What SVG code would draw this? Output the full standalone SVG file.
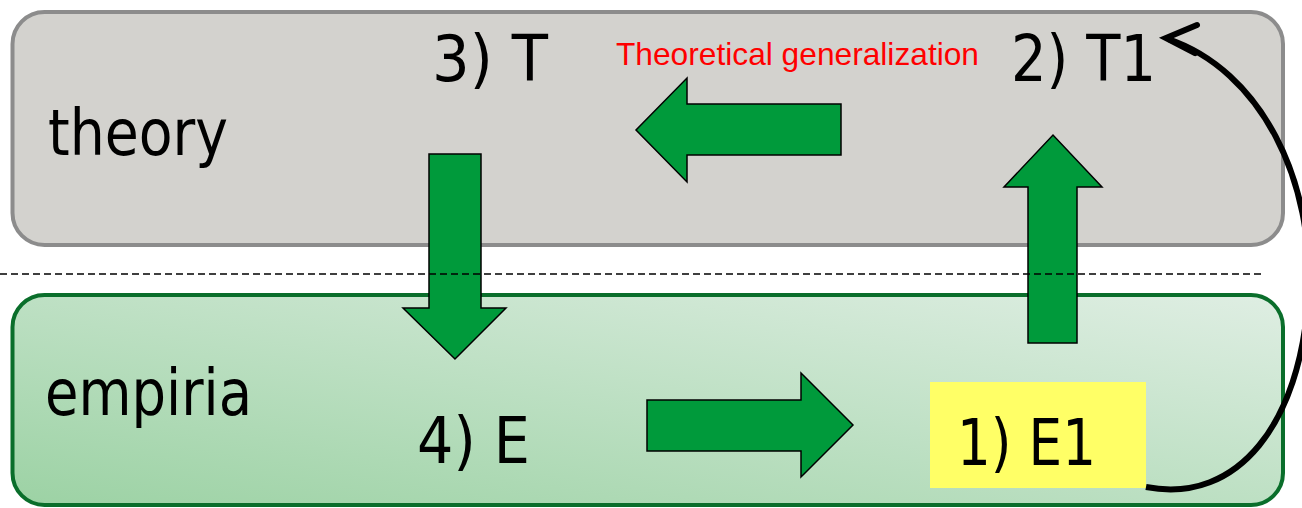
<svg xmlns="http://www.w3.org/2000/svg" width="1302" height="508" viewBox="0 0 1302 508">
  <style>
    .big { font-family: "DejaVu Sans", "Liberation Sans", sans-serif; font-size: 64px; fill: #000; }
    .garrow { fill: #009a3b; stroke: #000; stroke-width: 1.5; stroke-linejoin: miter; }
    .lbl { font-family: "Liberation Sans", Arial, sans-serif; font-size: 31.5px; fill: #ff0000; }
  </style>
  <defs>
    <linearGradient id="empGrad" x1="1" y1="0" x2="0" y2="1">
      <stop offset="0" stop-color="#dfeee3"/>
      <stop offset="1" stop-color="#9cd2a4"/>
    </linearGradient>
  </defs>
  <rect width="1302" height="508" fill="#ffffff"/>

  <g id="theory">
    <rect x="12.5" y="12" width="1270.5" height="233" rx="32" ry="32" fill="#d3d2ce" stroke="#8c8c8c" stroke-width="4"/>
    <text class="big" x="48" y="155" textLength="180" lengthAdjust="spacingAndGlyphs">theory</text>
  </g>

  <g id="empiria">
    <rect x="12.5" y="295" width="1270.5" height="210" rx="32" ry="32" fill="url(#empGrad)" stroke="#0a6e2b" stroke-width="4"/>
    <text class="big" x="45" y="415" textLength="207" lengthAdjust="spacingAndGlyphs">empiria</text>
  </g>

  <g id="node-T">
    <text class="big" x="432" y="81" textLength="116" lengthAdjust="spacingAndGlyphs">3) T</text>
  </g>

  <g id="node-T1">
    <text class="big" x="1011" y="81" textLength="145" lengthAdjust="spacingAndGlyphs">2) T1</text>
  </g>

  <g id="node-E">
    <text class="big" x="417" y="463" textLength="113" lengthAdjust="spacingAndGlyphs">4) E</text>
  </g>

  <g id="node-E1">
    <rect x="930" y="382" width="216" height="106" fill="#ffff66"/>
    <text class="big" x="957" y="465" textLength="139" lengthAdjust="spacingAndGlyphs">1) E1</text>
  </g>

  <g id="connectors">
    <!-- T1 -> T (theoretical generalization) -->
    <polygon class="garrow" points="841,104 687,104 687,78 636,130 687,182 687,155 841,155"/>
    <text class="lbl" x="616" y="65" textLength="363" lengthAdjust="spacingAndGlyphs">Theoretical generalization</text>
    <!-- T -> E -->
    <polygon class="garrow" points="429,154 481,154 481,308 506,308 455,359 403,308 429,308"/>
    <!-- E -> E1 -->
    <polygon class="garrow" points="647,400 801,400 801,373 853,425 801,477 801,451 647,451"/>
    <!-- E1 -> T1 -->
    <polygon class="garrow" points="1028,343 1028,187 1004,187 1053,135 1102,187 1077,187 1077,343"/>
    <!-- curved E1 -> T1 -->
    <path d="M1146,487 C1240,505 1300,420 1308,300 C1316,180 1260,70 1168,39" fill="none" stroke="#000" stroke-width="6"/>
    <polyline points="1197,25 1166,38 1195,53" fill="none" stroke="#000" stroke-width="6" stroke-linejoin="miter" stroke-linecap="round"/>
  </g>

  <line x1="0" y1="274" x2="1264" y2="274" stroke="#000" stroke-width="1.5" stroke-dasharray="7,4"/>
</svg>
